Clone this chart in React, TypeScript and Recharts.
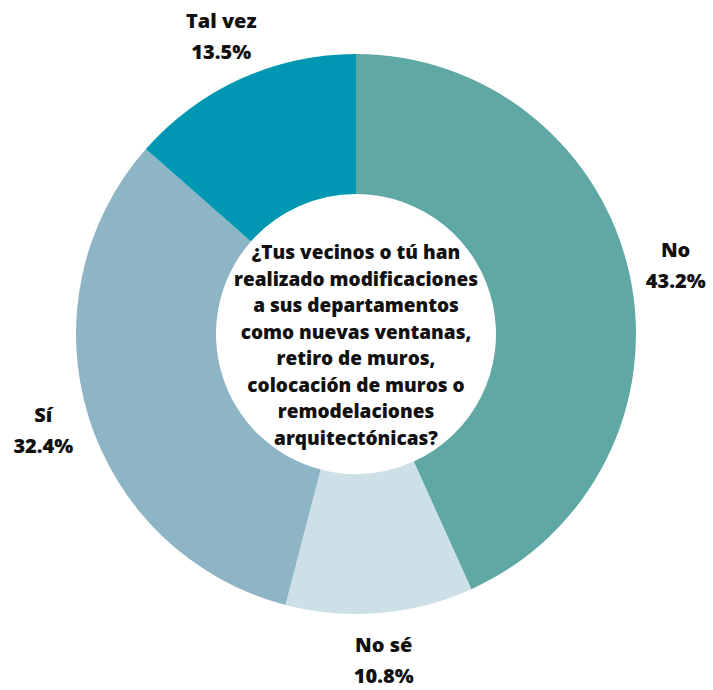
import React from "react";
import { PieChart, Pie, Cell, Label } from "recharts";

const categories = ["No", "No sé", "Sí", "Tal vez"];
const shares = [43.2, 10.8, 32.4, 13.5];
const colors = ["#5fa8a3", "#cde0e7", "#8db5c5", "#0097b2"];
const centerLines = [
  "¿Tus vecinos o tú han",
  "realizado modificaciones",
  "a sus departamentos",
  "como nuevas ventanas,",
  "retiro de muros,",
  "colocación de muros o",
  "remodelaciones",
  "arquitectónicas?",
];

const data = categories.map((name, i) => ({ name, value: shares[i] }));

const FONT = "'Open Sans', sans-serif";
const CX = 356;
const CY = 334;
const RAD = Math.PI / 180;

function renderLabel(props: any) {
  const { midAngle, index, cx, cy } = props;
  const r = 327;
  const x = cx + r * Math.cos(-midAngle * RAD);
  const y = cy + r * Math.sin(-midAngle * RAD);
  return (
    <text
      x={x}
      y={y}
      textAnchor="middle"
      fontFamily={FONT}
      fontWeight={800}
      fontSize={20}
      fill="#111"
    >
      <tspan x={x} dy={-8}>{categories[index]}</tspan>
      <tspan x={x} dy={31}>{shares[index].toFixed(1)}%</tspan>
    </text>
  );
}

function CenterText() {
  const startY = CY - 82;
  return (
    <text textAnchor="middle" fontFamily={FONT} fontWeight={800} fontSize={19} fill="#111">
      {centerLines.map((line, i) => (
        <tspan key={i} x={CX} y={startY + i * 26.5} dy={7}>
          {line}
        </tspan>
      ))}
    </text>
  );
}

export default function App() {
  return (
    <div style={{ position: "absolute", left: 0, top: 0, background: "#fff" }}>
      <PieChart width={713} height={690} margin={{ top: 0, right: 0, bottom: 0, left: 0 }}>
        <Pie
          data={data}
          dataKey="value"
          nameKey="name"
          cx={CX}
          cy={CY}
          innerRadius={140}
          outerRadius={280}
          startAngle={90}
          endAngle={-270}
          stroke="none"
          label={renderLabel}
          labelLine={false}
          isAnimationActive={false}
        >
          {data.map((d, i) => (
            <Cell key={d.name} fill={colors[i]} />
          ))}
          <Label position="center" content={() => <CenterText />} />
        </Pie>
      </PieChart>
    </div>
  );
}
